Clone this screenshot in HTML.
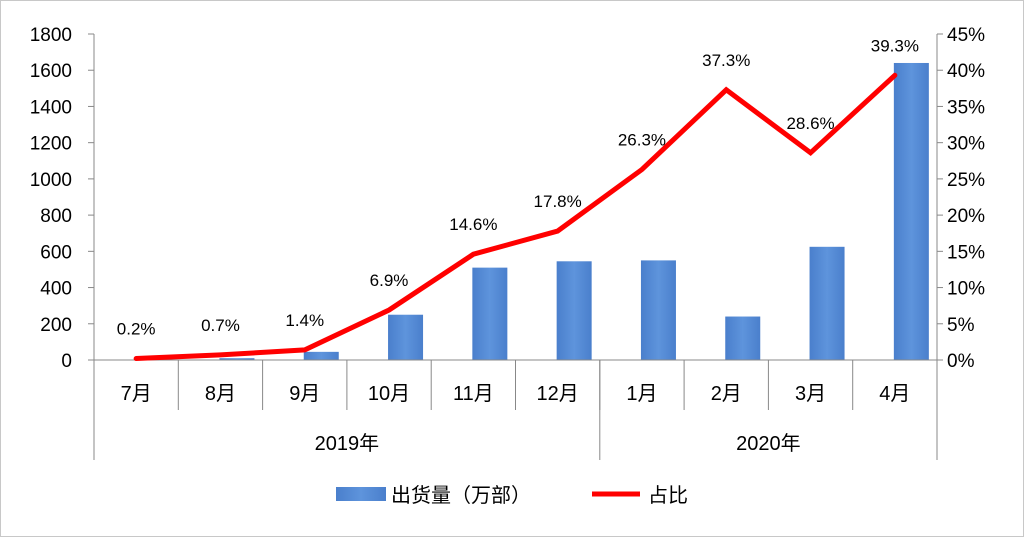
<!DOCTYPE html>
<html><head><meta charset="utf-8"><style>
body{margin:0;background:#fff}
svg{display:block;font-family:"Liberation Sans","Noto Sans CJK SC",sans-serif}
</style></head><body>
<svg id="c" width="1024" height="537">
<defs><linearGradient id="bg" x1="0" x2="1" y1="0" y2="0"><stop offset="0" stop-color="#4a7fcc"/><stop offset="0.5" stop-color="#5e94dc"/><stop offset="1" stop-color="#4a7fcc"/></linearGradient></defs>
<rect x="0.5" y="0.5" width="1023" height="536" fill="#fff" stroke="#c8c8c8"/>
<g id="g"></g>
</svg>
<script>
const categories=["7月","8月","9月","10月","11月","12月","1月","2月","3月","4月"];
const shipments=[2,10,45,250,510,545,550,240,625,1640];
const share=[0.2,0.7,1.4,6.9,14.6,17.8,26.3,37.3,28.6,39.3];
const leftTicks=[0,200,400,600,800,1000,1200,1400,1600,1800];
const rightTicks=[0,5,10,15,20,25,30,35,40,45];
const years=[{label:"2019年",from:0,to:6},{label:"2020年",from:6,to:10}];
const NS="http://www.w3.org/2000/svg",g=document.getElementById('g');
const X0=94,X1=937,Y0=360,Y1=34,bw=(X1-X0)/categories.length;
const yL=v=>Y0-(v/1800)*(Y0-Y1), yR=v=>Y0-(v/45)*(Y0-Y1), xc=i=>X0+bw*(i+0.5);
function mk(t,a,txt){const e=document.createElementNS(NS,t);for(const k in a)e.setAttribute(k,a[k]);if(txt!=null)e.textContent=txt;g.appendChild(e);return e;}
leftTicks.forEach(v=>{
 const e=mk('text',{x:X0-22,y:yL(v)+7,'text-anchor':'end','font-size':19,fill:'#000'},v);
 
 
 mk('line',{x1:X0-6,x2:X0,y1:yL(v),y2:yL(v),stroke:'#888'});
});
rightTicks.forEach(v=>{
 const e=mk('text',{x:X1+10,y:yR(v)+7,'font-size':19,fill:'#000'},v+'%');
 
 
 mk('line',{x1:X1,x2:X1+6,y1:yR(v),y2:yR(v),stroke:'#888'});
});
mk('line',{x1:X0,x2:X0,y1:Y1,y2:460,stroke:'#888'});
mk('line',{x1:X1,x2:X1,y1:Y1,y2:460,stroke:'#888'});
shipments.forEach((v,i)=>{
 const r=mk('rect',{x:xc(i)-1,y:yL(v),width:35,height:Y0-yL(v),fill:'url(#bg)'});
 
 
});
mk('line',{x1:X0,x2:X1,y1:Y0,y2:Y0,stroke:'#888'});
categories.forEach((c,i)=>{
 const t=mk('text',{x:xc(i),y:400,'text-anchor':'middle','font-size':20,fill:'#000'},c);
 
 
 if(i>0)mk('line',{x1:X0+bw*i,x2:X0+bw*i,y1:Y0,y2:410,stroke:'#888'});
});
years.forEach(y=>{
 const t=mk('text',{x:X0+bw*(y.from+y.to)/2,y:450,'text-anchor':'middle','font-size':20,fill:'#000'},y.label);
 
 
 if(y.from>0)mk('line',{x1:X0+bw*y.from,x2:X0+bw*y.from,y1:Y0,y2:460,stroke:'#888'});
});
const pl=mk('polyline',{points:share.map((v,i)=>xc(i)+','+yR(v)).join(' '),fill:'none',stroke:'#ff0000','stroke-width':5,'stroke-linejoin':'miter','stroke-linecap':'round'});


share.forEach((v,i)=>{
 const t=mk('text',{x:xc(i),y:yR(v)-24,'text-anchor':'middle','font-size':17,fill:'#000'},v.toFixed(1)+'%');
 
 
});
const lr=mk('rect',{x:336,y:487,width:50,height:14,fill:'url(#bg)'});


const lt=mk('text',{x:391,y:502,'font-size':20,fill:'#000'},'出货量（万部）');


const ll=mk('line',{x1:592,x2:640,y1:494,y2:494,stroke:'#ff0000','stroke-width':5});


const lt2=mk('text',{x:648,y:502,'font-size':20,fill:'#000'},'占比');


</script>
</body></html>
